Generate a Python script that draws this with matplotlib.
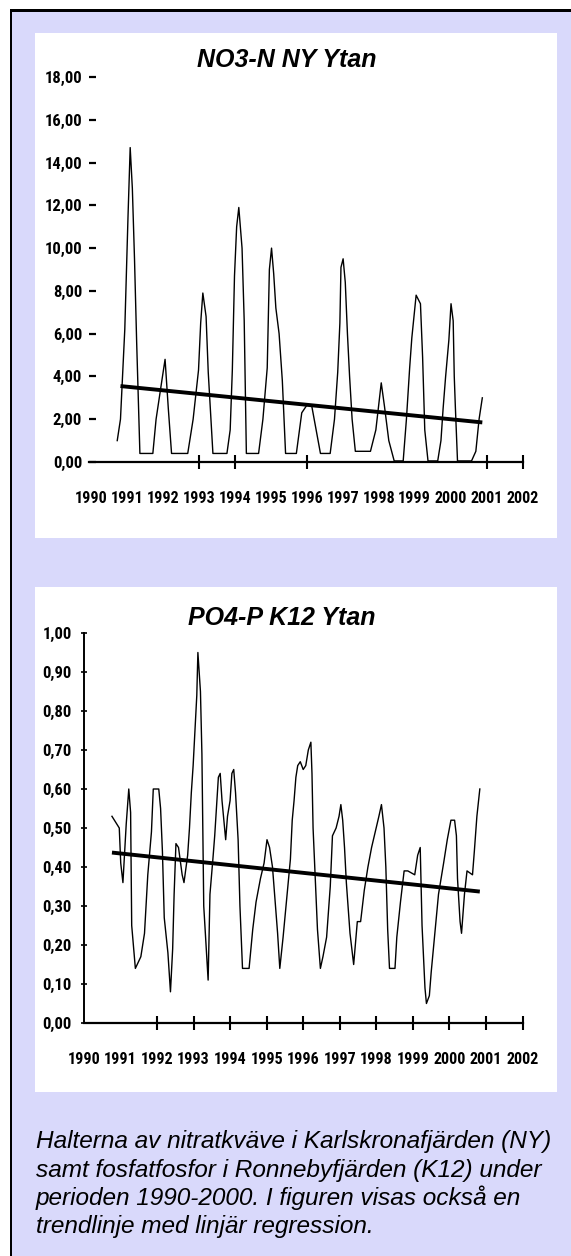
import matplotlib.pyplot as plt
from matplotlib.patches import Rectangle
from matplotlib.font_manager import FontProperties

# NO3-N, Karlskronafjärden (NY), ytvatten
no3_tid = [1990.73, 1990.82, 1990.94, 1991.03, 1991.09, 1991.15, 1991.21, 1991.27, 1991.36,
           1991.72, 1991.81, 1991.97, 1992.06, 1992.15, 1992.24,
           1992.69, 1992.84, 1992.99, 1993.05, 1993.11, 1993.20, 1993.26, 1993.39,
           1993.78, 1993.87, 1993.93, 1993.99, 1994.05, 1994.11, 1994.20, 1994.26, 1994.32,
           1994.66, 1994.78, 1994.90, 1994.96, 1995.02, 1995.08, 1995.14, 1995.23, 1995.32, 1995.41,
           1995.71, 1995.86, 1996.02, 1996.14, 1996.26, 1996.38,
           1996.65, 1996.77, 1996.86, 1996.92, 1996.95, 1997.01, 1997.07, 1997.13, 1997.19, 1997.26, 1997.35,
           1997.77, 1997.92, 1998.07, 1998.16, 1998.28, 1998.43,
           1998.68, 1998.77, 1998.86, 1998.92, 1999.04, 1999.16, 1999.22, 1999.28, 1999.37,
           1999.64, 1999.73, 1999.79, 1999.86, 1999.95, 2000.01, 2000.07, 2000.10, 2000.13, 2000.19,
           2000.58, 2000.70, 2000.79, 2000.88]
no3_varde = [1.0, 2.0, 6.2, 11.5, 14.7, 12.8, 9.5, 5.6, 0.4,
             0.4, 2.0, 3.8, 4.8, 2.5, 0.4,
             0.4, 2.0, 4.3, 6.5, 7.9, 6.8, 4.2, 0.4,
             0.4, 1.5, 4.3, 8.7, 11.0, 11.9, 10.0, 6.6, 0.4,
             0.4, 2.0, 4.4, 9.0, 10.0, 8.8, 7.2, 6.0, 3.8, 0.4,
             0.4, 2.3, 2.7, 2.6, 1.5, 0.4,
             0.4, 2.0, 4.2, 6.5, 9.1, 9.5, 8.4, 6.0, 4.0, 2.0, 0.5,
             0.5, 1.5, 3.7, 2.6, 1.0, 0.05,
             0.05, 2.0, 4.4, 5.8, 7.8, 7.4, 4.9, 1.5, 0.05,
             0.05, 1.0, 2.5, 4.0, 5.7, 7.4, 6.6, 4.0, 2.6, 0.05,
             0.05, 0.5, 2.0, 3.0]
no3_trend_tid = [1990.82, 2000.88]
no3_trend = [3.55, 1.85]

# PO4-P, Ronnebyfjärden (K12), ytvatten
po4_tid = [1990.77, 1990.97, 1991.01, 1991.07, 1991.16, 1991.23, 1991.28, 1991.31, 1991.41, 1991.56,
           1991.66, 1991.75, 1991.85, 1991.90, 1992.05, 1992.10, 1992.15, 1992.20, 1992.30, 1992.37,
           1992.43, 1992.47, 1992.52, 1992.59, 1992.69, 1992.74, 1992.84, 1992.89, 1992.94, 1992.99,
           1993.04, 1993.09, 1993.12, 1993.19, 1993.23, 1993.28, 1993.33, 1993.40, 1993.45, 1993.53,
           1993.58, 1993.68, 1993.73, 1993.78, 1993.83, 1993.88, 1993.93, 1994.00, 1994.05, 1994.10,
           1994.15, 1994.22, 1994.27, 1994.34, 1994.52, 1994.62, 1994.71, 1994.83, 1994.93, 1995.01,
           1995.08, 1995.16, 1995.30, 1995.36, 1995.45, 1995.55, 1995.65, 1995.70, 1995.75, 1995.80,
           1995.85, 1995.92, 1996.00, 1996.07, 1996.14, 1996.21, 1996.24, 1996.27, 1996.39, 1996.47,
           1996.54, 1996.64, 1996.74, 1996.80, 1996.90, 1996.98, 1997.03, 1997.08, 1997.13, 1997.18,
           1997.28, 1997.38, 1997.48, 1997.57, 1997.67, 1997.77, 1997.87, 1997.97, 1998.07, 1998.14,
           1998.21, 1998.26, 1998.31, 1998.36, 1998.51, 1998.56, 1998.66, 1998.76, 1998.86, 1999.05,
           1999.13, 1999.20, 1999.25, 1999.33, 1999.37, 1999.45, 1999.50, 1999.60, 1999.70, 1999.84,
           1999.94, 2000.04, 2000.14, 2000.19, 2000.22, 2000.29, 2000.33, 2000.41, 2000.48, 2000.63,
           2000.68, 2000.75, 2000.83]
po4_varde = [0.53, 0.50, 0.41, 0.36, 0.51, 0.60, 0.54, 0.25, 0.14, 0.17,
             0.23, 0.38, 0.49, 0.60, 0.60, 0.55, 0.44, 0.27, 0.18, 0.08,
             0.19, 0.33, 0.46, 0.45, 0.38, 0.36, 0.43, 0.50, 0.59, 0.66,
             0.75, 0.84, 0.95, 0.85, 0.69, 0.30, 0.22, 0.11, 0.33, 0.42,
             0.48, 0.63, 0.64, 0.57, 0.52, 0.47, 0.53, 0.57, 0.64, 0.65,
             0.59, 0.47, 0.30, 0.14, 0.14, 0.24, 0.31, 0.37, 0.41, 0.47,
             0.45, 0.40, 0.23, 0.14, 0.22, 0.32, 0.42, 0.52, 0.57, 0.63,
             0.66, 0.67, 0.65, 0.66, 0.70, 0.72, 0.64, 0.50, 0.24, 0.14,
             0.17, 0.22, 0.35, 0.48, 0.50, 0.53, 0.56, 0.52, 0.45, 0.36,
             0.23, 0.15, 0.26, 0.26, 0.34, 0.40, 0.45, 0.49, 0.53, 0.56,
             0.50, 0.40, 0.24, 0.14, 0.14, 0.22, 0.31, 0.39, 0.39, 0.38,
             0.43, 0.45, 0.25, 0.09, 0.05, 0.07, 0.13, 0.23, 0.33, 0.41,
             0.47, 0.52, 0.52, 0.48, 0.37, 0.26, 0.23, 0.33, 0.39, 0.38,
             0.44, 0.53, 0.60]
po4_trend_tid = [1990.77, 2000.83]
po4_trend = [0.437, 0.337]

ar = list(range(1990, 2003))
no3_yticks = [0, 2, 4, 6, 8, 10, 12, 14, 16, 18]
po4_yticks = [0.0, 0.1, 0.2, 0.3, 0.4, 0.5, 0.6, 0.7, 0.8, 0.9, 1.0]
no3_streck = [1993, 1994, 1996, 2001, 2002]
po4_streck = list(range(1992, 2003))

text_rader = ["Halterna av nitratkväve i Karlskronafjärden (NY)",
              "samt fosfatfosfor i Ronnebyfjärden (K12) under",
              "perioden 1990-2000. I figuren visas också en",
              "trendlinje med linjär regression."]

W, H = 571, 1256
LILA = '#d9d9fb'

fig = plt.figure(figsize=(W / 100, H / 100), dpi=100, facecolor='white')


def ruta(x0, y0, x1, y1, z, **kw):
    # rektangel i pixlar, räknat från övre vänstra hörnet
    r = Rectangle((x0 / W, 1 - y1 / H), (x1 - x0) / W, (y1 - y0) / H,
                  transform=fig.transFigure, zorder=z, **kw)
    fig.add_artist(r)


ruta(10, 10, W + 2, H + 2, -3, facecolor=LILA, edgecolor='none')
ruta(9.5, 9.5, 12, H + 2, -2, facecolor='black', edgecolor='none')
ruta(9.5, 9.5, W + 2, 12, -2, facecolor='black', edgecolor='none')
ruta(35, 33, 557, 538, -2, facecolor='white', edgecolor='none')
ruta(35, 587, 557, 1092, -2, facecolor='white', edgecolor='none')

smal_familj = ['Roboto Condensed', 'Liberation Sans Narrow', 'Open Sans Condensed', 'DejaVu Sans']
smal_y = FontProperties(family=smal_familj, weight='bold', stretch='condensed', size=12)
smal_x = FontProperties(family=smal_familj, weight='bold', stretch='condensed', size=11.5)


def komma(v):
    return f"{v:.2f}".replace('.', ',')


# --- NO3-N ---
ax1 = fig.add_axes([89 / W, 1 - 462 / H, (522.6 - 89) / W, 385 / H], facecolor='none')
ax1.plot(no3_tid, no3_varde, color='black', lw=1.0)
ax1.plot(no3_trend_tid, no3_trend, color='black', lw=2.8, solid_capstyle='butt')
ax1.set_xlim(1989.945, 2001.95)
ax1.set_ylim(0, 18)
for s in ['left', 'top', 'right']:
    ax1.spines[s].set_visible(False)
ax1.spines['bottom'].set_linewidth(1.6)
ax1.set_yticks(no3_yticks, labels=[komma(v) for v in no3_yticks], fontproperties=smal_y)
ax1.tick_params(axis='y', direction='in', length=5, width=1.6, pad=5)
ax1.set_xticks(ar, labels=[str(a) for a in ar], fontproperties=smal_x)
ax1.set_xticks(no3_streck, minor=True)
ax1.xaxis.remove_overlapping_locs = False
ax1.tick_params(axis='x', which='major', length=0, pad=21)
ax1.tick_params(axis='x', which='minor', direction='inout', length=10, width=1.5)

# --- PO4-P ---
ax2 = fig.add_axes([83.8 / W, 1 - 1023 / H, (522.6 - 83.8) / W, 390 / H], facecolor='none')
ax2.plot(po4_tid, po4_varde, color='black', lw=1.0)
ax2.plot(po4_trend_tid, po4_trend, color='black', lw=2.8, solid_capstyle='butt')
ax2.set_xlim(1990.08, 2001.98)
ax2.set_ylim(0, 1.0)
for s in ['top', 'right']:
    ax2.spines[s].set_visible(False)
ax2.spines['left'].set_linewidth(1.4)
ax2.spines['bottom'].set_linewidth(1.6)
ax2.set_yticks(po4_yticks, labels=[komma(v) for v in po4_yticks], fontproperties=smal_y)
ax2.tick_params(axis='y', direction='inout', length=5, width=1.2, pad=6)
ax2.set_xticks(ar, labels=[str(a) for a in ar], fontproperties=smal_x)
ax2.set_xticks(po4_streck, minor=True)
ax2.xaxis.remove_overlapping_locs = False
ax2.tick_params(axis='x', which='major', length=0, pad=21)
ax2.tick_params(axis='x', which='minor', direction='inout', length=10, width=1.5)

# rubriker
rubrik = dict(family=['Liberation Sans', 'DejaVu Sans'], weight='bold', style='italic',
              size=18, ha='center', va='baseline')
fig.text(287 / W, 1 - 67 / H, "NO3-N NY Ytan", **rubrik)
fig.text(282 / W, 1 - 625 / H, "PO4-P K12 Ytan", **rubrik)

# bildtext
for i, rad in enumerate(text_rader):
    fig.text(36 / W, 1 - (1148 + 28.5 * i) / H, rad, family=['Liberation Sans', 'DejaVu Sans'],
             style='italic', size=17.6, ha='left', va='baseline')

fig.savefig('out.png', dpi=100, facecolor='white')
